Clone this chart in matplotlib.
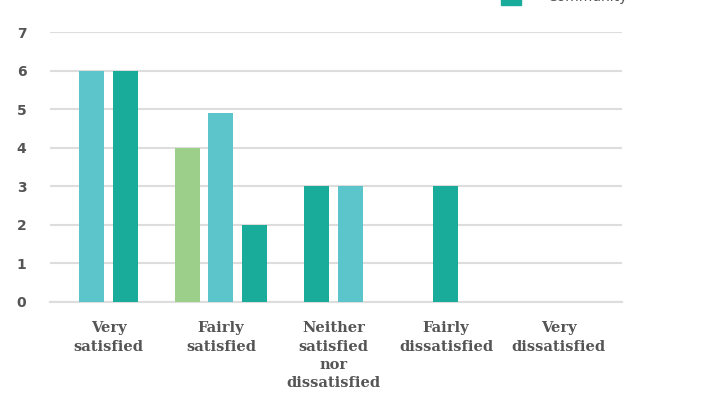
import numpy as np
import matplotlib.pyplot as plt
from matplotlib.patches import Patch

# survey answers, only non-zero bars are drawn per category
categories = ["Very\nsatisfied", "Fairly\nsatisfied", "Neither\nsatisfied\nnor\ndissatisfied",
              "Fairly\ndissatisfied", "Very\ndissatisfied"]
bar_values = [[6, 6], [4, 4.9, 2], [3, 3], [3], []]
bar_series = [["B", "C"], ["A", "B", "C"], ["C", "B"], ["C"], []]

series_names = ["Resident", "Business", "Community"]
series_colors = {"A": "#9CD08A", "B": "#5CC5CC", "C": "#19AC9A"}
yticks = [0, 1, 2, 3, 4, 5, 6, 7]

fig = plt.figure(figsize=(7.22, 4.01), dpi=100)
ax = fig.add_axes([50/722, 1 - 301.7/401, 572/722, 269.4/401])

width = 0.222
step = 0.3
for i, (vals, sers) in enumerate(zip(bar_values, bar_series)):
    n = len(vals)
    for j, (v, s) in enumerate(zip(vals, sers)):
        x = i + (j - (n - 1) / 2) * step
        ax.bar(x, v, width=width, color=series_colors[s], zorder=3)

ax.set_xlim(-0.52, 4.565)
ax.set_ylim(0, 7)
ax.set_yticks(yticks)
ax.set_yticklabels([str(t) for t in yticks], color="#555555", fontsize=10,
                   fontweight="bold", family="DejaVu Sans")
ax.set_xticks(range(len(categories)))
ax.set_xticklabels(categories, color="#555555", fontsize=10.5, fontweight="bold",
                   family="DejaVu Serif", linespacing=1.4)
ax.tick_params(axis="both", length=0)
ax.tick_params(axis="y", pad=17)
ax.tick_params(axis="x", pad=14)
ax.grid(axis="y", color="#dddddd", linewidth=1.5, zorder=0)
for sp in ["top", "right", "left"]:
    ax.spines[sp].set_visible(False)
ax.spines["bottom"].set_color("#dddddd")
ax.spines["bottom"].set_linewidth(1.5)

handles = [Patch(color=series_colors[k]) for k in ["A", "B", "C"]]
fig.legend(handles, series_names, loc="lower left", bbox_to_anchor=(501/722, 1 - 5/401),
           frameon=False, fontsize=10, handlelength=1.45, handleheight=1.45,
           handletextpad=1.85, labelcolor="#555555", borderpad=0, borderaxespad=0)

fig.savefig("out.png", dpi=100)
